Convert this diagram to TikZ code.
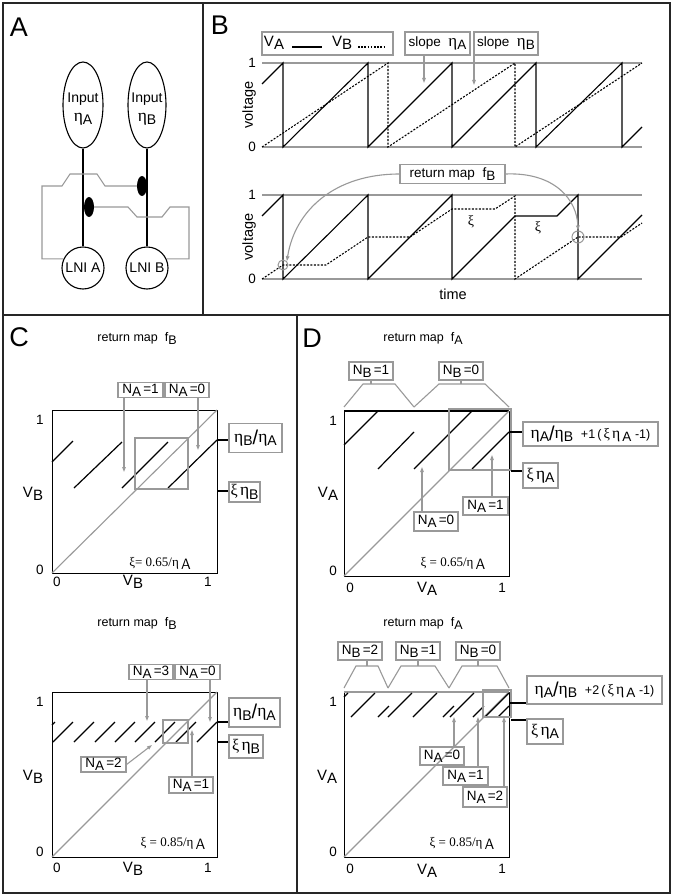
\documentclass[tikz,border=0pt]{standalone}
\usepackage{fontspec}
\setmainfont{Liberation Sans}
\newfontfamily\serif{Liberation Serif}
\usepackage{graphicx}
\usetikzlibrary{arrows.meta,shapes.geometric}
\newcommand\et{{\serif\scalebox{1.25}{η}}}
\newcommand\xii{{\serif\scalebox{1.15}{ξ}}}
\newcommand\lo[1]{\raisebox{-0.45ex}{#1}}
\newcommand\sz[1]{\fontsize{#1}{#1}\selectfont}
\newcommand\bigsl{\raisebox{-0.25ex}{\sz{20}/}}
\begin{document}
\begin{tikzpicture}[x=1pt,y=-1pt,
  panel/.style={draw=black!85,line width=2.2pt},
  gbox/.style={draw=black!40,line width=1.1pt,inner sep=0pt,font=\sz{13.5}},
  gb/.style n args={2}{gbox,minimum width=#1pt,minimum height=#2pt},
  garrow/.style={draw=black!40,line width=1.1pt,-{Triangle[length=5pt,width=3.5pt]}},
  gline/.style={draw=black!40,line width=1.1pt},
  seg/.style={black,line width=1.2pt},
  lead/.style={black,line width=1.1pt},
  vsolid/.style={black,line width=1.1pt},
  vdash/.style={black,line width=1.1pt,dash pattern=on 2pt off 1.5pt},
  plotbox/.style={draw=black,line width=1pt},
  tick/.style={font=\sz{13.5},inner sep=0pt},
  lab/.style={font=\sz{27},inner sep=0pt},
  ttl/.style={font=\sz{12.5},inner sep=0pt},
  xit/.style={font=\sz{12.5},inner sep=0pt},
  inp/.style={font=\sz{14},inner sep=0pt},
  ]
\fill[white] (0,0) rectangle (673,896);
\useasboundingbox (0,0) rectangle (673,896);
% panel frames
\draw[panel] (3,3) rectangle (203,315);
\draw[panel] (203,3) rectangle (670,315);
\draw[panel] (3,315) rectangle (297,893);
\draw[panel] (297,315) rectangle (670,893);

% ---------------- Panel A
\node[lab] (labA) at (19,27) {A};
\node[draw,ellipse,line width=1.1pt,minimum width=40pt,minimum height=86pt,inner sep=0pt] (inA) at (83,105) {};
\node[draw,ellipse,line width=1.1pt,minimum width=38pt,minimum height=86pt,inner sep=0pt] (inB) at (147,105) {};
\node[inp] (inAt) at (83,99) {Input};
\node[inp] (inAe) at (83,119) {\et\lo{A}};
\node[inp] (inBt) at (147,99) {Input};
\node[inp] (inBe) at (147,119) {\et\lo{B}};
\node[draw,circle,line width=1.1pt,minimum size=42pt,inner sep=0pt,font=\sz{14}] (lniA) at (83,268) {LNI A};
\node[draw,circle,line width=1.1pt,minimum size=42pt,inner sep=0pt,font=\sz{14}] (lniB) at (147,268) {LNI B};
\draw[line width=2.6pt] (inA.south) -- (lniA.north);
\draw[line width=2.6pt] (inB.south) -- (lniB.north);
\node[fill=black,ellipse,minimum width=10pt,minimum height=20pt,inner sep=0pt] (synA) at (89,207) {};
\node[fill=black,ellipse,minimum width=10pt,minimum height=20pt,inner sep=0pt] (synB) at (142,186) {};
\draw[gline] (lniA.155) -| (42,186) -- (62,186) -- (70,174) -- (97,174) -- (105,186) -- (synB.west);
\draw[gline] (lniB.25) -| (189,207) -- (170,207) -- (162,217) -- (137,217) -- (128,207) -- (synA.east);

% ---------------- Panel B
\node[lab] (labB) at (220,25) {B};
\node[gb={131}{23}] (leg) at (327.5,43.5) {};
\node[font=\sz{15},inner sep=0pt] (legA) at (274,43) {V\lo{A}};
\node[font=\sz{15},inner sep=0pt] (legB) at (342,43) {V\lo{B}};
\draw[line width=1.8pt] (292,47) -- (322,47);
\draw[line width=1.8pt,dash pattern=on 1.6pt off 1.6pt] (358,47) -- (386,47);
\node[gb={65}{23}] (slA) at (437.5,43.5) {slope\ \ \et\lo{A}};
\node[gb={64}{23}] (slB) at (506,43.5) {slope\ \ \et\lo{B}};
\coordinate (tslA) at (424,83);
\coordinate (tslB) at (474,85);
\draw[garrow] (slA.south -| tslA) -- (tslA);
\draw[garrow] (slB.south -| tslB) -- (tslB);
% top plot
\draw[gline] (262,63) -- (642,63);
\draw[gline] (262,147) -- (642,147);
\draw[vsolid] (262,84) -- (283,63) -- (283,147) -- (368,63) -- (368,147) -- (452,63) -- (452,147) -- (536,63) -- (536,147) -- (622,63) -- (622,147) -- (642,127);
\draw[vdash] (262,147) -- (388,63) -- (388,147) -- (515,63) -- (515,147) -- (642,63);
\node[tick] at (252,63) {1};
\node[tick] at (252,147) {0};
\node[font=\sz{14.5},inner sep=0pt,rotate=90] at (249,105) {voltage};
% bottom plot
\node[gb={105}{19},font=\sz{13.5}] (rmB) at (452.5,174) {return map\ \ f\lo{B}};
\draw[gline] (262,195) -- (642,195);
\draw[gline] (262,279) -- (642,279);
\draw[vsolid] (262,216) -- (283,195) -- (283,279) -- (368,195) -- (368,279) -- (452,195) -- (452,279) -- (515,216) -- (557,216) -- (578,195) -- (578,279) -- (642,215);
\draw[vdash] (262,279) -- (283,265) -- (326,265) -- (368,237) -- (410,237) -- (452,209) -- (495,209) -- (515,196) -- (515,279) -- (578,237) -- (621,237) -- (642,223);
\node[circle,draw=black!40,line width=1pt,minimum size=10pt,inner sep=0pt] (cir1) at (283,265) {};
\node[circle,draw=black!40,line width=1pt,minimum size=12pt,inner sep=0pt] (cir2) at (578,237) {};
\draw[garrow] (rmB.west) .. controls (335,174) and (295,210) .. (cir1.north east);
\draw[garrow] (rmB.east) .. controls (555,172) and (577,200) .. (cir2.north);
\node[xit,font=\serif\sz{14}] at (471,222) {ξ};
\node[xit,font=\serif\sz{14}] at (538,228) {ξ};
\node[tick] at (252,195) {1};
\node[tick] at (252,279) {0};
\node[font=\sz{14.5},inner sep=0pt,rotate=90] at (249,237) {voltage};
\node[font=\sz{14.5},inner sep=0pt] at (453,294) {time};

% ---------------- Panel C top
\node[lab] (labC) at (19,337) {C};
\node[ttl] at (137,338) {return map\ \ f\lo{B}};
\draw[plotbox] (52,410) rectangle (217,573);
\draw[gline] (52,573) -- (217,410);
\draw[seg] (52,462) -- (73,441);
\draw[seg] (74,488) -- (122,442);
\draw[seg] (122,488) -- (168,442);
\draw[seg] (168,488) -- (217,440);
\draw[gline] (135,438) rectangle (188,489);
\node[gb={45}{15}] (cNa1) at (140.5,390) {N\lo{A}\,=1};
\node[gb={44}{15}] (cNa0) at (187,390) {N\lo{A}\,=0};
\coordinate (cta1) at (124,472);
\coordinate (cta0) at (198,450);
\draw[garrow] (cNa1.south -| cta1) -- (cta1);
\draw[garrow] (cNa0.south -| cta0) -- (cta0);
\node[gb={53}{29},font=\sz{14}] (cEta) at (255.5,438) {\et\lo{B}\bigsl\et\lo{A}};
\node[gb={31}{20},font=\sz{14}] (cXi) at (244.5,492) {\xii\,\et\lo{B}};
\coordinate (cLt) at (217,440);
\coordinate (cLb) at (217,491);
\draw[lead] (cLt) -- (cLt -| cEta.west);
\draw[lead] (cLb) -- (cLb -| cXi.west);
\node[inner sep=0pt] at (160,563) {\serif\sz{13}ξ= 0.65/η\,\sz{15}\sffamily\lo{A}};
\node[tick] at (40,420) {1};
\node[tick] at (40,570) {0};
\node[tick] at (57,582) {0};
\node[tick] at (208,582) {1};
\node[font=\sz{15},inner sep=0pt] at (133,582) {V\lo{B}};
\node[font=\sz{15},inner sep=0pt] at (33,494) {V\lo{B}};

% ---------------- Panel C bottom
\node[ttl] at (137,623) {return map\ \ f\lo{B}};
\draw[plotbox] (52,692) rectangle (217,857);
\draw[gline] (52,857) -- (217,692);
\draw[seg] (52,725) -- (55,722);
\foreach \x in {53,74,95,115,135,155,176,197} \draw[seg] (\x,742) -- (\x+20,722);
\draw[gline] (163,720) rectangle (188,743);
\node[gb={44}{15}] (cbNa3) at (151,672) {N\lo{A}\,=3};
\node[gb={45}{15}] (cbNa0) at (197.5,672) {N\lo{A}\,=0};
\node[gb={45}{15}] (cbNa2) at (103.5,764.5) {N\lo{A}\,=2};
\node[gb={44}{16}] (cbNa1) at (191,785) {N\lo{A}\,=1};
\coordinate (cbt3) at (147,721);
\coordinate (cbt0) at (210,722);
\coordinate (cbt2) at (152,745);
\coordinate (cbt1) at (192,730);
\draw[garrow] (cbNa3.south -| cbt3) -- (cbt3);
\draw[garrow] (cbNa0.south -| cbt0) -- (cbt0);
\draw[garrow] (cbNa2.east) -- (cbt2);
\draw[garrow] (cbNa1.north -| cbt1) -- (cbt1);
\node[gb={51}{29},font=\sz{14}] (cbEta) at (254.5,712.5) {\et\lo{B}\bigsl\et\lo{A}};
\node[gb={34}{23},font=\sz{14}] (cbXi) at (246,746.5) {\xii\,\et\lo{B}};
\coordinate (cbLt) at (217,722);
\coordinate (cbLb) at (217,742);
\draw[lead] (cbLt) -- (cbLt -| cbEta.west);
\draw[lead] (cbLb) -- (cbLb -| cbXi.west);
\node[inner sep=0pt] at (173,843) {\serif\sz{13}ξ = 0.85/η\,\sz{15}\sffamily\lo{A}};
\node[tick] at (40,702) {1};
\node[tick] at (40,852) {0};
\node[tick] at (57,868) {0};
\node[tick] at (208,868) {1};
\node[font=\sz{15},inner sep=0pt] at (133,869) {V\lo{B}};
\node[font=\sz{15},inner sep=0pt] at (33,777) {V\lo{B}};

% ---------------- Panel D top
\node[lab] (labD) at (312,338) {D};
\node[ttl] at (423,338) {return map\ \ f\lo{A}};
\draw[plotbox] (344,411) rectangle (509,576);
\draw[black,line width=1.6pt] (344,411) -- (509,411);
\draw[gline] (344,576) -- (509,411);
\draw[seg] (344,445) -- (378,411);
\draw[seg] (378,469) -- (414,432);
\draw[seg] (414,469) -- (472,411);
\draw[seg] (472,469) -- (509,432);
\draw[gline] (449,409) rectangle (511,470);
\node[gb={44}{18}] (dNb1) at (371,371) {N\lo{B}\,=1};
\node[gb={44}{18}] (dNb0) at (461,371) {N\lo{B}\,=0};
\coordinate (dbr1) at (371,384);
\coordinate (dbr0) at (461,384);
\draw[gline] (dNb1.south) -- (dbr1);
\draw[gline] (dNb0.south) -- (dbr0);
\draw[gline] (344,407) -- (363,384) -- (395,384) -- (414,407);
\draw[gline] (414,407) -- (439,384) -- (485,384) -- (509,407);
\node[gb={135}{24},font=\sz{14}] (dEq) at (590.5,434) {\et\lo{A}\bigsl\et\lo{B}\ \ {\sz{12.5}+1\,(\,\xii\,\et\,\sz{13.5}\lo{A}\ \sz{12.5}-1)}};
\node[gb={35}{25},font=\sz{14}] (dXi) at (540.5,475.5) {\xii\,\et\lo{A}};
\coordinate (dLt) at (509,432);
\coordinate (dLb) at (511,471);
\draw[lead] (dLt) -- (dLt -| dEq.west);
\draw[lead] (dLb) -- (dLb -| dXi.west);
\node[gb={44}{19}] (dNa0) at (436,521.5) {N\lo{A}\,=0};
\node[gb={45}{18}] (dNa1) at (485.5,506) {N\lo{A}\,=1};
\coordinate (dta0) at (422,467);
\coordinate (dta1) at (492,455);
\draw[garrow] (dNa0.north -| dta0) -- (dta0);
\draw[garrow] (dNa1.north -| dta1) -- (dta1);
\node[inner sep=0pt] at (453,563) {\serif\sz{13}ξ = 0.65/η\,\sz{15}\sffamily\lo{A}};
\node[tick] at (333,421) {1};
\node[tick] at (333,571) {0};
\node[tick] at (350,588) {0};
\node[tick] at (502,588) {1};
\node[font=\sz{15},inner sep=0pt] at (427,589) {V\lo{A}};
\node[font=\sz{15},inner sep=0pt] at (328,494) {V\lo{A}};

% ---------------- Panel D bottom
\node[ttl] at (423,623) {return map\ \ f\lo{A}};
\draw[plotbox] (344,692) rectangle (509,857);
\draw[gline] (344,692) -- (509,692);
\draw[gline] (344,857) -- (509,692);
\draw[seg] (344,697) -- (348,693);
\foreach \x in {351,388,413,450,485} \draw[seg] (\x,717) -- (\x+24,693);
\foreach \x in {378,443,473,498} \draw[seg] (\x,717) -- (\x+11,706);
\draw[gline] (483,690) rectangle (511,717);
\node[gb={44}{18}] (dbNb2) at (360,651) {N\lo{B}\,=2};
\node[gb={44}{18}] (dbNb1) at (418,651) {N\lo{B}\,=1};
\node[gb={44}{18}] (dbNb0) at (478,651) {N\lo{B}\,=0};
\coordinate (dbb2) at (367,666);
\coordinate (dbb1) at (418,666);
\coordinate (dbb0) at (478,666);
\draw[gline] (dbNb2.south -| dbb2) -- (dbb2);
\draw[gline] (dbNb1.south) -- (dbb1);
\draw[gline] (dbNb0.south) -- (dbb0);
\draw[gline] (344,688) -- (356,666) -- (378,666) -- (388,688);
\draw[gline] (388,688) -- (401,666) -- (435,666) -- (449,688);
\draw[gline] (449,688) -- (462,666) -- (497,666) -- (509,688);
\node[gb={135}{28},font=\sz{14}] (dbEq) at (594.5,690) {\et\lo{A}\bigsl\et\lo{B}\ \ {\sz{12.5}+2\,(\,\xii\,\et\,\sz{13.5}\lo{A}\ \sz{12.5}-1)}};
\node[gb={36}{25},font=\sz{14}] (dbXi) at (545,731.5) {\xii\,\et\lo{A}};
\coordinate (dbLt) at (509,703);
\coordinate (dbLb) at (511,720);
\draw[lead] (dbLt) -- (dbLt -| dbEq.west);
\draw[lead] (dbLb) -- (dbLb -| dbXi.west);
\node[gb={44}{18}] (dbNa0) at (442,756) {N\lo{A}\,=0};
\node[gb={45}{18}] (dbNa1) at (465.5,776) {N\lo{A}\,=1};
\node[gb={44}{20}] (dbNa2) at (485,797) {N\lo{A}\,=2};
\coordinate (dbt0) at (454,717);
\coordinate (dbt1) at (478,717);
\coordinate (dbt2) at (504,717);
\draw[garrow] (dbNa0.north -| dbt0) -- (dbt0);
\draw[garrow] (dbNa1.north -| dbt1) -- (dbt1);
\draw[garrow] (dbNa2.north -| dbt2) -- (dbt2);
\node[inner sep=0pt] at (462,843) {\serif\sz{13}ξ = 0.85/η\,\sz{15}\sffamily\lo{A}};
\node[tick] at (333,702) {1};
\node[tick] at (333,852) {0};
\node[tick] at (350,869) {0};
\node[tick] at (502,869) {1};
\node[font=\sz{15},inner sep=0pt] at (427,871) {V\lo{A}};
\node[font=\sz{15},inner sep=0pt] at (327,777) {V\lo{A}};
\end{tikzpicture}
\end{document}
